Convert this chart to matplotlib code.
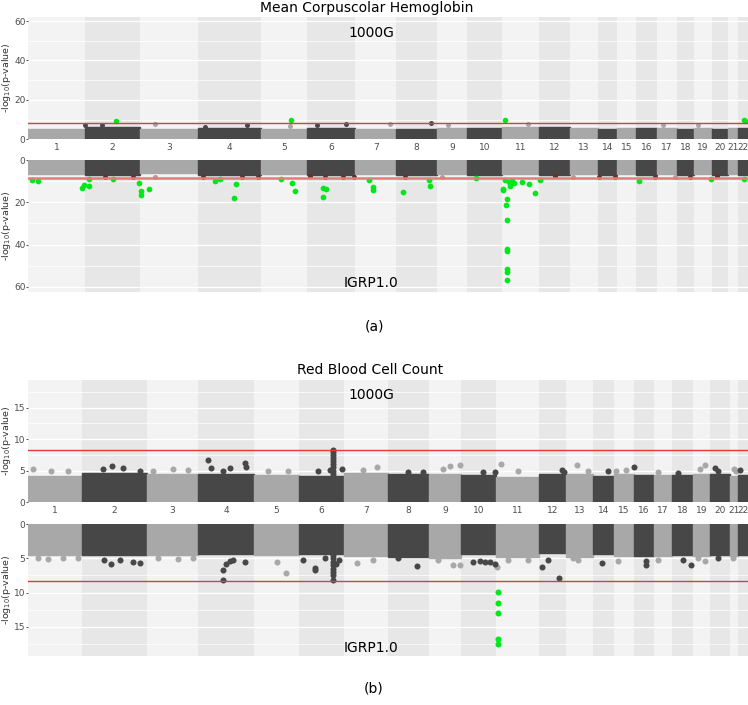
"""
Miami plots (1000G vs IGRP1.0) for two blood traits.
"""
import numpy as np
import matplotlib
matplotlib.use('Agg')
import matplotlib.pyplot as plt

CHROMS = [str(i) for i in range(1, 23)]

# chromosome spans on the cumulative axis (SNP count units)
spans_a = [56.7, 55.0, 58.3, 62.7, 45.7, 48.6, 40.7, 40.7, 30.6, 34.4, 37.6,
           30.7, 28.3, 18.4, 19.3, 20.7, 20.0, 17.3, 17.7, 16.6, 10.0, 9.7]
spans_b = [53.4, 65.0, 51.6, 55.7, 45.3, 44.7, 44.0, 41.0, 32.0, 35.0, 43.0,
           27.0, 27.0, 20.7, 20.0, 20.3, 18.3, 20.7, 17.0, 19.7, 8.6, 9.7]

# bulk of the SNP cloud per chromosome, -log10(p)
bulk_a_top = [5.3, 6.0, 5.0, 5.6, 5.2, 5.8, 5.2, 5.4, 5.5, 5.6, 6.4,
              6.0, 5.8, 5.1, 5.6, 5.6, 5.8, 5.4, 5.8, 5.4, 5.6, 5.8]
bulk_a_bot = [6.3, 6.9, 6.2, 7.0, 6.3, 6.9, 6.4, 6.9, 6.3, 6.9, 6.5,
              6.9, 6.4, 6.9, 6.3, 6.9, 6.5, 7.0, 6.4, 6.9, 6.4, 7.0]
bulk_b_top = [4.2, 4.6, 4.4, 4.5, 4.3, 4.1, 4.6, 4.4, 4.5, 4.3, 4.0,
              4.5, 4.5, 4.1, 4.5, 4.3, 4.3, 4.3, 4.5, 4.4, 4.2, 4.3]
bulk_b_bot = [4.5, 4.5, 4.5, 4.4, 4.5, 4.4, 4.6, 4.8, 4.9, 4.4, 4.8,
              4.2, 4.8, 4.4, 4.7, 4.6, 4.6, 4.5, 4.7, 4.5, 4.6, 4.5]

THRESH = 8.3

# (a) Mean Corpuscolar Hemoglobin, 1000G
a_top_green_x = [87.7, 262.4, 477.0, 715.7, 716.7]
a_top_green_y = [9.3, 10.0, 9.7, 9.7, 9.2]
a_top_dark_x = [56.7, 73.4, 176.7, 218.4, 288.4, 317.4, 402.4]
a_top_dark_y = [7.1, 7.1, 6.3, 7.1, 7.3, 7.8, 8.2]
a_top_light_x = [126.7, 262.0, 361.7, 420.0, 500.0, 635.0, 670.0]
a_top_light_y = [8.0, 7.0, 8.0, 7.1, 7.6, 7.1, 7.5]

# (a) IGRP1.0
a_bot_green_x = [4.0, 10.0, 53.4, 56.0, 60.7, 61.0, 85.0, 111.0, 112.7, 113.0,
                 120.4, 186.7, 191.7, 207.7, 206.0, 252.4, 263.7, 266.7, 294.4,
                 297.7, 295.0, 341.0, 344.4, 344.7, 375.0, 401.0, 401.4, 447.7,
                 474.4, 474.7, 478.4, 478.0, 478.7, 478.7, 478.7, 478.7, 478.7,
                 478.4, 476.7, 480.7, 481.7, 486.0, 483.4, 494.0, 500.7, 506.7,
                 512.0, 611.0, 682.7, 715.7]
a_bot_green_y = [9.4, 9.9, 13.3, 11.9, 12.1, 9.1, 8.9, 11.0, 14.6, 16.5,
                 13.5, 10.0, 8.7, 11.1, 17.8, 9.1, 10.6, 14.5, 13.3,
                 13.7, 17.6, 9.4, 12.9, 14.1, 15.2, 9.4, 12.1, 8.4,
                 13.5, 14.3, 18.6, 21.4, 28.4, 41.9, 43.0, 51.6, 53.0,
                 56.7, 9.4, 10.5, 12.2, 10.6, 9.7, 10.3, 11.4, 15.5,
                 9.4, 9.9, 8.9, 9.1]
a_bot_red_x = [76.7, 105.0, 175.0, 213.4, 230.0, 281.7, 296.7, 315.0, 326.0,
               376.7, 526.7, 571.0, 586.7, 626.7, 661.7, 688.4]
a_bot_red_y = [7.8, 7.8, 7.8, 7.8, 7.8, 7.3, 8.1, 7.8, 7.8,
               8.1, 7.5, 7.8, 7.8, 7.8, 7.8, 7.3]
a_bot_rose_x = [126.7, 413.4, 545.0, 646.7]
a_bot_rose_y = [8.1, 8.1, 8.1, 8.1]

# (b) Red Blood Cell Count, 1000G
b_top_dark_x = [83.4, 74.7, 112.0, 95.0, 180.0, 182.4, 201.7, 216.7, 217.7, 195.0,
                305.0, 305.0, 305.0, 305.0, 305.0, 305.0, 305.0, 305.0, 305.0,
                314.0, 301.7, 290.0, 395.0, 380.0, 466.7, 455.0, 533.4, 536.0,
                580.0, 605.7, 650.0, 687.0, 690.0, 712.0]
b_top_dark_y = [5.7, 5.2, 5.0, 5.4, 6.7, 5.4, 5.4, 6.2, 5.6, 5.0,
                4.5, 5.0, 5.5, 6.0, 6.5, 7.0, 7.5, 8.0, 8.2,
                5.3, 5.1, 5.0, 4.8, 4.7, 4.8, 4.7, 5.1, 4.8,
                4.9, 5.6, 4.6, 5.4, 5.0, 5.1]
b_top_light_x = [5.0, 23.0, 40.0, 145.0, 160.0, 125.0, 240.0, 260.0, 348.4, 335.0,
                 431.7, 421.7, 415.0, 472.4, 490.0, 548.4, 560.0, 588.0, 598.0,
                 630.0, 676.7, 672.0, 706.0, 708.0]
b_top_light_y = [5.3, 5.0, 4.9, 5.3, 5.1, 5.0, 4.9, 5.0, 5.6, 5.1,
                 5.9, 5.8, 5.3, 6.1, 4.9, 5.9, 5.0, 4.9, 5.1,
                 4.8, 5.9, 5.3, 5.3, 5.0]

# (b) IGRP1.0
b_bot_green_x = [470.0, 470.0, 470.0, 469.7, 469.7]
b_bot_green_y = [9.9, 11.5, 13.0, 16.7, 17.5]
b_bot_dark_x = [82.7, 76.0, 111.7, 105.0, 92.0, 194.4, 194.4, 198.0, 201.7, 216.7,
                205.0, 286.7, 286.7, 275.0, 305.0, 305.0, 305.0, 305.0, 305.0,
                305.0, 305.0, 305.0, 308.0, 311.0, 297.0, 389.0, 370.0, 445.0,
                451.7, 456.7, 461.7, 466.7, 514.0, 531.0, 520.0, 573.4, 617.7,
                617.4, 662.4, 655.0, 690.0]
b_bot_dark_y = [5.8, 5.3, 5.7, 5.5, 5.2, 8.2, 6.7, 5.8, 5.4, 5.6,
                5.2, 6.7, 6.4, 5.3, 4.5, 5.0, 5.5, 6.0, 6.5,
                7.0, 7.5, 8.2, 5.8, 5.3, 5.0, 6.1, 5.0, 5.5,
                5.4, 5.5, 5.5, 5.9, 6.2, 7.9, 5.2, 5.7, 6.0,
                5.4, 6.0, 5.2, 5.0]
b_bot_light_x = [10.0, 20.0, 35.0, 50.0, 130.0, 150.0, 165.0, 257.4, 248.4, 328.4,
                 345.0, 425.0, 431.7, 410.0, 469.0, 480.0, 500.0, 550.0, 545.0,
                 590.0, 630.0, 676.7, 670.0, 705.0]
b_bot_light_y = [5.0, 5.1, 5.0, 4.9, 5.0, 5.1, 4.9, 7.2, 5.5, 5.7,
                 5.2, 6.0, 6.0, 5.3, 6.2, 5.2, 5.3, 5.3, 5.0,
                 5.4, 5.2, 5.4, 5.0, 5.0]

LIGHT = '#a8a8a8'
DARK = '#474747'
GREEN = '#00e81a'
DARKRED = '#6e2c2c'
ROSE = '#c99393'
BG_ODD = '#f3f3f3'
BG_EVEN = '#e7e7e7'
TXT = '#4d4d4d'


def draw_half(ax, spans, bulk, ymax, major, minor, lower=False, line_kw=None):
    spans = np.array(spans)
    starts = np.concatenate([[0], np.cumsum(spans)[:-1]])
    for i, (s, w) in enumerate(zip(starts, spans)):
        ax.axvspan(s, s + w, color=BG_ODD if i % 2 == 0 else BG_EVEN,
                   lw=0, zorder=0)
    cols = [LIGHT if i % 2 == 0 else DARK for i in range(len(spans))]
    ax.bar(starts, bulk, width=spans, align='edge', color=cols,
           edgecolor=cols, linewidth=1.0, zorder=2)
    ax.set_xlim(0, spans.sum())
    if lower:
        ax.set_ylim(ymax, 0)
    else:
        ax.set_ylim(0, ymax)
    ax.set_yticks(major)
    ax.set_yticks(minor, minor=True)
    ax.grid(True, which='major', axis='y', color='white', lw=0.9)
    ax.grid(True, which='minor', axis='y', color='white', lw=0.5)
    ax.set_axisbelow(True)
    ax.tick_params(axis='y', which='major', labelsize=6.5, labelcolor=TXT,
                   color='#333333', length=1.5, width=0.6, pad=0.5)
    ax.tick_params(axis='y', which='minor', length=0)
    for sp in ax.spines.values():
        sp.set_visible(False)
    kw = dict(color='#e03a3a', lw=1.0, zorder=5)
    if line_kw:
        kw.update(line_kw)
    ax.axhline(THRESH, **kw)
    ax.set_ylabel('-log$_{10}$(p-value)', fontsize=6.8, color='#333333')
    ax.yaxis.set_label_coords(-0.0206, 0.5)
    if lower:
        ax.set_xticks([])
    else:
        ax.set_xticks(starts + spans / 2)
        ax.set_xticklabels(CHROMS)
        ax.tick_params(axis='x', length=0, labelsize=6.5, labelcolor=TXT,
                       pad=2.5)
    return starts


def pts(ax, x, y, color, size):
    ax.scatter(x, y, s=size, color=color, lw=0, zorder=4, clip_on=False)


fig = plt.figure(figsize=(7.48, 7.05), dpi=100)
L, W = 28.3 / 748, 719.7 / 748

# panel (a)
ax1 = fig.add_axes([L, 0.8024, W, 0.1739])
draw_half(ax1, spans_a, bulk_a_top, 62.2, [0, 20, 40, 60], [10, 30, 50])
pts(ax1, a_top_dark_x, a_top_dark_y, DARK, 13)
pts(ax1, a_top_light_x, a_top_light_y, LIGHT, 13)
pts(ax1, a_top_green_x, a_top_green_y, GREEN, 16)

ax2 = fig.add_axes([L, 0.5862, W, 0.1864])
draw_half(ax2, spans_a, bulk_a_bot, 62.4, [0, 20, 40, 60], [10, 30, 50],
          lower=True, line_kw=dict(lw=1.8, color='#e47a7a'))
pts(ax2, a_bot_rose_x, a_bot_rose_y, ROSE, 13)
pts(ax2, a_bot_red_x, a_bot_red_y, DARKRED, 13)
pts(ax2, a_bot_green_x, a_bot_green_y, GREEN, 17)

# panel (b)
ax3 = fig.add_axes([L, 0.2879, W, 0.1730])
draw_half(ax3, spans_b, bulk_b_top, 19.4, [0, 5, 10, 15],
          [2.5, 7.5, 12.5, 17.5])
pts(ax3, b_top_light_x, b_top_light_y, LIGHT, 19)
pts(ax3, b_top_dark_x, b_top_dark_y, DARK, 19)

ax4 = fig.add_axes([L, 0.0699, W, 0.1868])
draw_half(ax4, spans_b, bulk_b_bot, 19.2, [0, 5, 10, 15],
          [2.5, 7.5, 12.5, 17.5], lower=True)
pts(ax4, b_bot_light_x, b_bot_light_y, LIGHT, 19)
pts(ax4, b_bot_dark_x, b_bot_dark_y, DARK, 19)
pts(ax4, b_bot_green_x, b_bot_green_y, GREEN, 19)

# titles and annotations
fig.text(367 / 748, 1 - 8 / 705, 'Mean Corpuscolar Hemoglobin', ha='center',
         va='center', fontsize=10)
fig.text(371 / 748, 1 - 33 / 705, '1000G', ha='center', va='center',
         fontsize=10)
fig.text(371 / 748, 1 - 283 / 705, 'IGRP1.0', ha='center', va='center',
         fontsize=10)
fig.text(374 / 748, 1 - 327 / 705, '(a)', ha='center', va='center',
         fontsize=10)
fig.text(370 / 748, 1 - 370 / 705, 'Red Blood Cell Count', ha='center',
         va='center', fontsize=10)
fig.text(371 / 748, 1 - 395 / 705, '1000G', ha='center', va='center',
         fontsize=10)
fig.text(371 / 748, 1 - 648 / 705, 'IGRP1.0', ha='center', va='center',
         fontsize=10)
fig.text(374 / 748, 1 - 688 / 705, '(b)', ha='center', va='center',
         fontsize=10)

fig.savefig('out.png', dpi=100)
